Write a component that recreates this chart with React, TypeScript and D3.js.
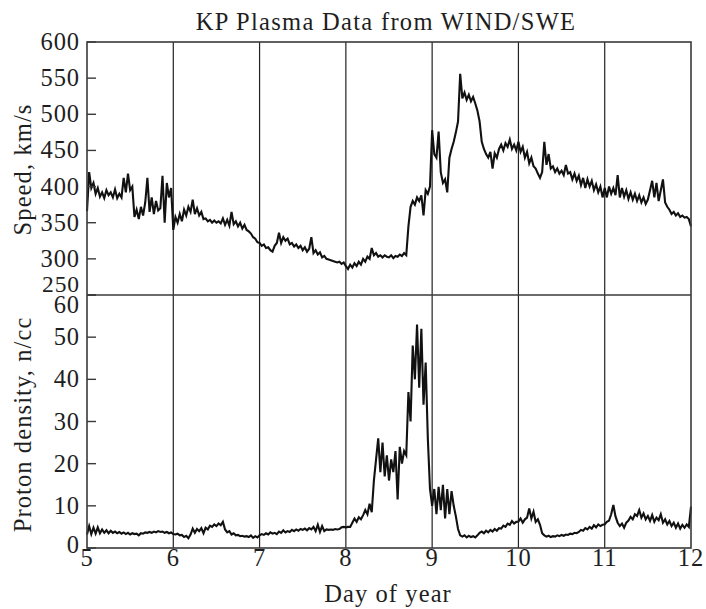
import React from "react";
import * as d3 from "d3";

// Sampling: one value every 0.025 day starting at day 5.000
const START_DAY = 5;
const STEP_DAY = 0.025;

const speed: number[] = [
  // day 5
  366, 420, 398, 405, 390, 398, 386, 392, 384, 395, 388, 392, 385, 396, 384, 390, 385, 412, 392, 418,
  395, 400, 358, 368, 355, 372, 360, 378, 412, 365, 385, 362, 380, 367, 370, 415, 350, 405, 385, 398,
  // day 6
  340, 358, 350, 362, 352, 368, 360, 372, 365, 382, 362, 370, 360, 365, 355, 356, 352, 354, 350, 353,
  350, 352, 349, 356, 347, 354, 346, 365, 348, 352, 345, 350, 342, 347, 340, 338, 335, 330, 328, 323,
  // day 7
  322, 318, 320, 315, 316, 312, 310, 318, 322, 336, 322, 330, 325, 328, 320, 322, 317, 320, 315, 318,
  312, 316, 310, 314, 330, 308, 312, 306, 309, 302, 304, 300, 299, 298, 297, 296, 295, 296, 293, 295,
  // day 8
  290, 286, 292, 288, 294, 290, 296, 292, 300, 296, 303, 300, 315, 305, 308, 303, 305, 302, 305, 303,
  302, 305, 301, 304, 303, 306, 304, 308, 305, 345, 372, 380, 375, 385, 380, 388, 360, 395, 390, 400,
  // day 9
  478, 445, 440, 476, 420, 405, 410, 392, 440, 452, 462, 475, 490, 556, 522, 530, 520, 527, 518, 524,
  515, 505, 490, 462, 452, 445, 440, 448, 425, 446, 440, 452, 458, 450, 460, 455, 465, 452, 458, 450,
  // day 10
  462, 448, 455, 440, 448, 432, 440, 428, 425, 418, 412, 420, 462, 430, 445, 425, 428, 420, 425, 418,
  422, 416, 430, 418, 420, 410, 418, 408, 415, 402, 412, 398, 410, 400, 408, 395, 403, 392, 400, 385,
  // day 11
  398, 385, 400, 390, 398, 388, 416, 385, 398, 386, 395, 383, 392, 382, 390, 380, 388, 378, 385, 376,
  382, 395, 408, 385, 405, 380, 395, 410, 378, 372, 368, 362, 365, 360, 363, 358, 360, 357, 358, 355,
  // day 12
  345,
];

const density: number[] = [
  // day 5
  3.2, 5.2, 3.3, 4.8, 3.4, 4.9, 3.5, 4.4, 3.6, 4.2, 3.5, 4.1, 3.6, 3.9, 3.5, 3.8, 3.4, 3.7, 3.3, 3.6,
  3.2, 3.5, 3.3, 3.4, 3.0, 3.5, 3.4, 3.7, 3.6, 3.8, 3.6, 3.9, 3.7, 4.0, 3.8, 3.9, 3.6, 3.8, 3.5, 3.7,
  // day 6
  3.3, 3.2, 3.4, 3.0, 3.1, 2.6, 2.9, 2.3, 3.2, 4.6, 3.6, 4.5, 4.0, 4.7, 3.5, 4.8, 4.4, 5.3, 5.0, 5.6,
  5.2, 5.8, 5.4, 6.2, 4.4, 3.7, 4.0, 3.2, 3.5, 3.0, 3.1, 2.8, 2.9, 2.7, 2.8, 2.6, 3.0, 2.4, 2.8, 2.5,
  // day 7
  3.0, 3.3, 3.1, 3.5, 3.2, 3.7, 3.4, 3.6, 3.3, 3.9, 3.6, 4.2, 3.7, 4.0, 3.8, 4.3, 4.0, 4.4, 4.1, 4.5,
  4.3, 4.6, 4.2, 4.7, 4.4, 5.0, 4.0, 5.5, 3.8, 5.2, 4.0, 4.4, 4.3, 4.4, 4.3, 4.5, 4.4, 4.5, 4.9, 5.0,
  // day 8
  4.9, 5.0, 5.0, 6.0, 7.0, 6.2, 7.3, 6.8, 7.8, 9.0, 8.0, 10.5, 8.5, 16, 21, 26, 18, 25, 17, 22,
  16, 21, 18, 23, 11.5, 24, 20, 23, 22, 37, 30, 48, 40, 53, 38, 52, 34, 44, 26, 14,
  // day 9
  10, 14, 8, 14.5, 9, 15, 7, 14, 8, 13.5, 10, 7.5, 4.5, 3.0, 2.7, 3.0, 2.5, 2.9, 2.6, 2.8,
  2.5, 3.0, 3.6, 3.9, 3.5, 4.1, 3.7, 4.3, 3.9, 4.5, 4.1, 4.7, 4.6, 5.3, 5.0, 5.8, 5.5, 6.4, 5.8, 6.2,
  // day 10
  6.3, 7.0, 6.0, 6.8, 7.2, 9.4, 7.0, 8.6, 6.2, 6.8, 5.5, 3.5, 3.0, 2.7, 2.9, 2.6, 2.8, 2.7, 3.0, 2.8,
  3.1, 2.9, 3.2, 3.1, 3.4, 3.3, 3.6, 3.5, 3.8, 4.3, 4.1, 4.7, 4.4, 5.0, 4.6, 5.4, 4.9, 5.6, 5.2, 5.5,
  // day 11
  5.6, 6.2, 6.5, 8.0, 10.2, 7.5, 6.0, 5.2, 5.8, 4.8, 6.0, 6.5, 7.4, 6.8, 8.0, 7.6, 9.0, 7.2, 8.2, 6.8,
  7.6, 6.4, 7.8, 6.2, 7.2, 6.6, 8.0, 6.0, 6.8, 5.6, 6.4, 5.2, 6.0, 4.8, 5.8, 4.6, 5.5, 4.8, 5.6, 5.0,
  // day 12
  9.8,
];

const dayTicks = [5, 6, 7, 8, 9, 10, 11, 12];
const gridDays = [6, 7, 8, 9, 10, 11];
const speedTicks = [250, 300, 350, 400, 450, 500, 550, 600];
const densityTicks = [0, 10, 20, 30, 40, 50, 60];

const TITLE = "KP Plasma Data from WIND/SWE";
const SPEED_LABEL = "Speed, km/s";
const DENSITY_LABEL = "Proton density, n/cc";
const X_LABEL = "Day of year";

const W = 706;
const H = 609;
const L = 87;
const R = 691;
const T = 42;
const MID = 295;
const B = 548;
const FONT = "'Liberation Serif', 'Times New Roman', serif";
const FS = 24.5;
const LS = 0.9;

export default function App() {
  const x = d3.scaleLinear().domain([5, 12]).range([L, R]);
  const yS = d3.scaleLinear().domain([250, 600]).range([MID, T]);
  const yD = d3.scaleLinear().domain([0, 60]).range([B, MID]);

  const lineS = d3
    .line<number>()
    .x((_, i) => x(START_DAY + i * STEP_DAY))
    .y((v) => yS(v));
  const lineD = d3
    .line<number>()
    .x((_, i) => x(START_DAY + i * STEP_DAY))
    .y((v) => yD(v));

  const frame = "#3a3a3a";
  const tickLen = 9;
  const txt = "#1e1e1e";

  return (
    <svg
      width={W}
      height={H}
      style={{ position: "absolute", left: 0, top: 0, background: "#fff" }}
      fontFamily={FONT}
    >
      <rect x={0} y={0} width={W} height={H} fill="#fff" />
      {/* title */}
      <text x={386} y={30} fontSize={FS} letterSpacing={1.3} textAnchor="middle" fill={txt}>
        {TITLE}
      </text>

      {/* grid lines */}
      {gridDays.map((d) => (
        <line key={d} x1={x(d)} x2={x(d)} y1={T} y2={B} stroke="#222" strokeWidth={1.2} />
      ))}

      {/* data */}
      <path d={lineS(speed) || ""} fill="none" stroke="#111" strokeWidth={2.1} strokeLinejoin="miter" />
      <path d={lineD(density) || ""} fill="none" stroke="#111" strokeWidth={2.1} strokeLinejoin="miter" />

      {/* frames */}
      <rect x={L} y={T} width={R - L} height={B - T} fill="none" stroke={frame} strokeWidth={1.6} />
      <line x1={L} x2={R} y1={MID} y2={MID} stroke={frame} strokeWidth={1.6} />

      {/* speed ticks */}
      {speedTicks.map((v) => (
        <g key={"s" + v}>
          <line x1={L} x2={L + tickLen} y1={yS(v)} y2={yS(v)} stroke={frame} strokeWidth={1.4} />
          <text
            x={80}
            y={yS(v) + (v === 250 ? -3 : 8)}
            fontSize={v === 250 ? 23.5 : FS}
            letterSpacing={LS}
            textAnchor="end"
            fill={txt}
          >
            {v}
          </text>
        </g>
      ))}

      {/* density ticks */}
      {densityTicks.map((v) => (
        <g key={"d" + v}>
          <line x1={L} x2={L + tickLen} y1={yD(v)} y2={yD(v)} stroke={frame} strokeWidth={1.4} />
          <text
            x={80}
            y={yD(v) + (v === 60 ? 18 : v === 0 ? 5 : 8)}
            fontSize={FS}
            letterSpacing={LS}
            textAnchor="end"
            fill={txt}
          >
            {v}
          </text>
        </g>
      ))}

      {/* x tick labels */}
      {dayTicks.map((d) => (
        <text key={"x" + d} x={x(d)} y={566} fontSize={FS} letterSpacing={LS} textAnchor="middle" fill={txt}>
          {d}
        </text>
      ))}

      <text x={388} y={602} fontSize={FS} letterSpacing={1.1} textAnchor="middle" fill={txt}>
        {X_LABEL}
      </text>

      <text
        transform={`translate(31, ${(T + MID) / 2 + 1}) rotate(-90)`}
        fontSize={FS}
        letterSpacing={1.1}
        textAnchor="middle"
        fill={txt}
      >
        {SPEED_LABEL}
      </text>
      <text
        transform={`translate(31, ${(MID + B) / 2 + 3}) rotate(-90)`}
        fontSize={FS}
        letterSpacing={1.1}
        textAnchor="middle"
        fill={txt}
      >
        {DENSITY_LABEL}
      </text>
    </svg>
  );
}
